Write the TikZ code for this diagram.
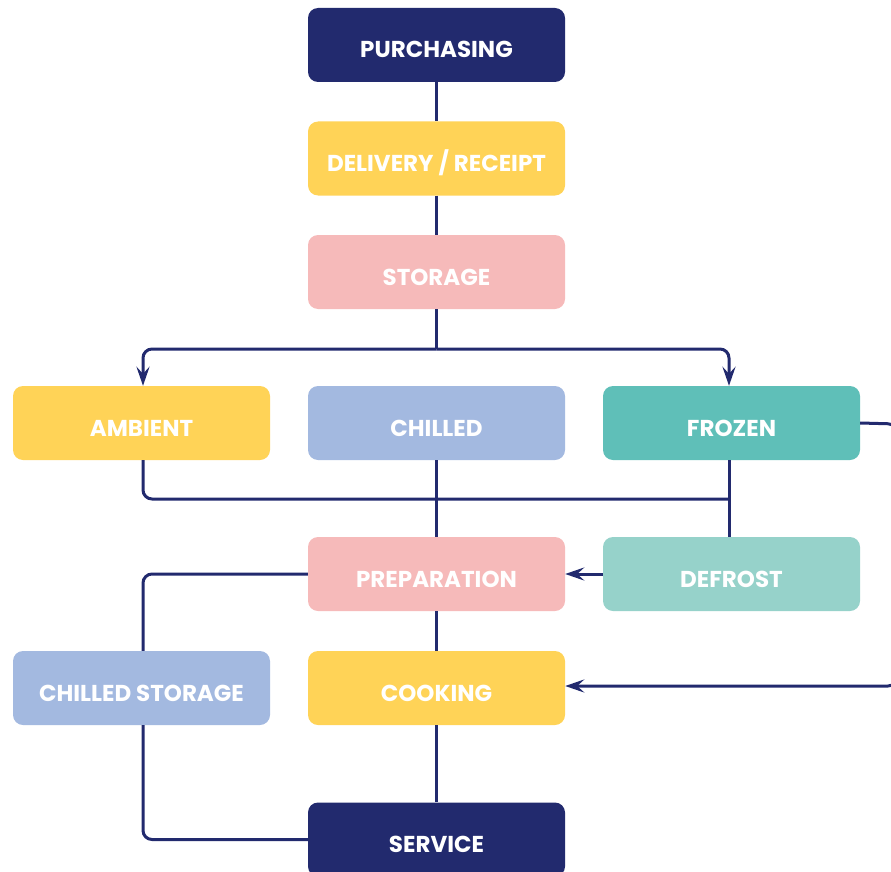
\documentclass[tikz,border=0pt]{standalone}
\usepackage{fontspec}
\setmainfont{Poppins}
\usetikzlibrary{arrows.meta}
\definecolor{navy}{RGB}{34,42,110}
\definecolor{cyellow}{RGB}{255,211,87}
\definecolor{cpink}{RGB}{246,186,186}
\definecolor{cblue}{RGB}{163,185,224}
\definecolor{cteal}{RGB}{95,191,184}
\definecolor{cltteal}{RGB}{150,210,202}
\tikzset{
  box/.style={rounded corners=10pt, minimum width=257pt, minimum height=74pt, inner sep=0pt, text=white, text height=26pt, text depth=0pt, font=\fontsize{23}{26}\selectfont\bfseries},
  conn/.style={draw=navy, line width=3pt, rounded corners=9pt},
  arr/.style={-{Stealth[length=19pt,width=13pt,inset=7pt]}},
}
\begin{document}
\begin{tikzpicture}[x=1pt,y=-1pt]
\useasboundingbox (0,0) rectangle (891,872);
\node[box, fill=navy] (purch) at (436.5,45) {PURCHASING};
\node[box, fill=cyellow] (deliv) at (436.5,158.5) {DELIVERY / RECEIPT};
\node[box, fill=cpink] (stor) at (436.5,272) {STORAGE};
\node[box, fill=cyellow] (amb) at (141.5,423) {AMBIENT};
\node[box, fill=cblue] (chill) at (436.5,423) {CHILLED};
\node[box, fill=cteal] (froz) at (731.5,423) {FROZEN};
\node[box, fill=cpink] (prep) at (436.5,574) {PREPARATION};
\node[box, fill=cltteal] (defr) at (731.5,574) {DEFROST};
\node[box, fill=cblue] (cstor) at (141.5,688) {CHILLED STORAGE};
\node[box, fill=cyellow] (cook) at (436.5,688) {COOKING};
\node[box, fill=navy] (serv) at (436.5,839.5) {SERVICE};
\coordinate (split) at (436.5,349);
\coordinate (merge) at (729,499);
\coordinate (rside) at (897,424);
% connectors
\draw[conn] (purch.south) -- (deliv.north);
\draw[conn] (deliv.south) -- (stor.north);
\draw[conn] (stor.south) -- (split);
\draw[conn, arr] (split) -| (amb.north -| 143,0);
\draw[conn, arr] (split) -| (froz.north -| 729,0);
\draw[conn] (chill.south) -- (prep.north);
\draw[conn] (amb.south -| 143,0) |- (merge);
\draw[conn] (froz.south -| 729,0) -- (defr.north -| 729,0);
\draw[conn, arr] (defr.west) -- (prep.east);
\draw[conn, arr] (froz.east) -- (rside) -- (897,686) -- (cook.east |- 0,686);
\draw[conn] (prep.west) -| (cstor.north -| 143,0);
\draw[conn] (cstor.south -| 143,0) |- (serv.west);
\draw[conn] (prep.south) -- (cook.north);
\draw[conn] (cook.south) -- (serv.north);
\end{tikzpicture}
\end{document}
